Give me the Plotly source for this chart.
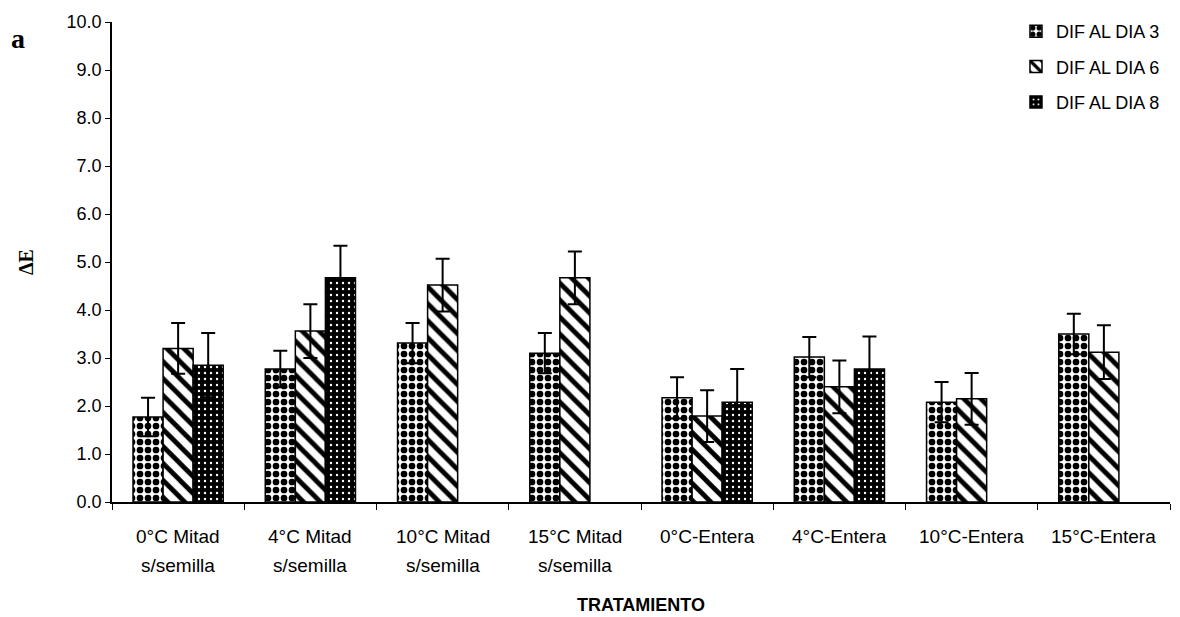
import plotly.graph_objects as go

# Treatments (two-line labels under each group)
tratamientos = ["0°C Mitad s/semilla", "4°C Mitad s/semilla", "10°C Mitad s/semilla",
                "15°C Mitad s/semilla", "0°C-Entera", "4°C-Entera", "10°C-Entera", "15°C-Entera"]
etiqueta_linea1 = ["0°C Mitad", "4°C Mitad", "10°C Mitad", "15°C Mitad",
                   "0°C-Entera", "4°C-Entera", "10°C-Entera", "15°C-Entera"]
etiqueta_linea2 = ["s/semilla", "s/semilla", "s/semilla", "s/semilla", "", "", "", ""]

# Colour difference ΔE and its error, per day
dif_dia3 = [1.77, 2.77, 3.31, 3.10, 2.17, 3.02, 2.08, 3.50]
err_dia3 = [0.40, 0.38, 0.42, 0.42, 0.43, 0.42, 0.42, 0.42]
dif_dia6 = [3.20, 3.56, 4.52, 4.67, 1.79, 2.40, 2.15, 3.12]
err_dia6 = [0.53, 0.56, 0.55, 0.55, 0.54, 0.55, 0.54, 0.56]
dif_dia8 = [2.85, 4.67, None, None, 2.08, 2.77, None, None]
err_dia8 = [0.67, 0.67, 0, 0, 0.69, 0.68, 0, 0]

y_ticks = [0, 1, 2, 3, 4, 5, 6, 7, 8, 9, 10]

FONT = "Liberation Sans, Arial, sans-serif"
SERIF = "Liberation Serif, Times New Roman, serif"

series = [
    ("DIF AL DIA 3", dif_dia3, err_dia3,
     dict(shape=".", fgcolor="black", bgcolor="white", size=8, solidity=0.55, fgopacity=1)),
    ("DIF AL DIA 6", dif_dia6, err_dia6,
     dict(shape="\\", fgcolor="black", bgcolor="white", size=12, solidity=0.4, fgopacity=1)),
    ("DIF AL DIA 8", dif_dia8, err_dia8,
     dict(shape=".", fgcolor="white", bgcolor="black", size=6, solidity=0.12, fgopacity=1)),
]

fig = go.Figure()
for i, (nombre, valores, errores, patron) in enumerate(series):
    fig.add_trace(go.Bar(
        name=nombre,
        x=tratamientos,
        y=valores,
        legendgroup=f"g{i}",
        marker=dict(color="white", pattern=patron, line=dict(color="black", width=1.5)),
        error_y=dict(type="data", array=errores, symmetric=True, visible=True,
                     color="black", thickness=2, width=7),
    ))

annotations = []
for cat, l1, l2 in zip(tratamientos, etiqueta_linea1, etiqueta_linea2):
    annotations.append(dict(x=cat, y=-0.072, xref="x", yref="paper", text=l1,
                            showarrow=False, yanchor="middle",
                            font=dict(family=FONT, size=19, color="black")))
    if l2:
        annotations.append(dict(x=cat, y=-0.133, xref="x", yref="paper", text=l2,
                                showarrow=False, yanchor="middle",
                                font=dict(family=FONT, size=19, color="black")))

# Panel letter
annotations.append(dict(x=-0.0888, y=0.965, xref="paper", yref="paper", text="<b>a</b>",
                        showarrow=False, xanchor="center", yanchor="middle",
                        font=dict(family=SERIF, size=28, color="black")))

fig.update_layout(
    width=1180, height=617,
    margin=dict(l=112, r=10, t=22, b=115, autoexpand=False),
    paper_bgcolor="white", plot_bgcolor="white",
    barmode="group", bargap=0.318, bargroupgap=0,
    font=dict(family=FONT, color="black"),
    showlegend=True,
    legend=dict(xref="container", yref="container", x=0.861, y=0.979,
                xanchor="left", yanchor="top", tracegroupgap=9,
                font=dict(family=FONT, size=18, color="black"),
                bgcolor="rgba(0,0,0,0)"),
    annotations=annotations,
)

fig.update_xaxes(
    type="category", showline=True, linecolor="black", linewidth=1.5,
    ticks="outside", tickson="boundaries", ticklen=6, tickcolor="black",
    showticklabels=False, showgrid=False, zeroline=False,
    title=dict(text="<b>TRATAMIENTO</b>", standoff=96,
               font=dict(family=FONT, size=18, color="black")),
)
fig.update_yaxes(
    range=[0, 10], tickvals=y_ticks, tickformat=".1f",
    showline=True, linecolor="black", linewidth=1.5,
    ticks="outside", ticklen=5, tickcolor="black",
    showgrid=False, zeroline=False,
    tickfont=dict(family=FONT, size=18, color="black"),
    title=dict(text="<b>ΔE</b>", standoff=28, font=dict(family=SERIF, size=20, color="black")),
)

fig.write_html("out.html")
